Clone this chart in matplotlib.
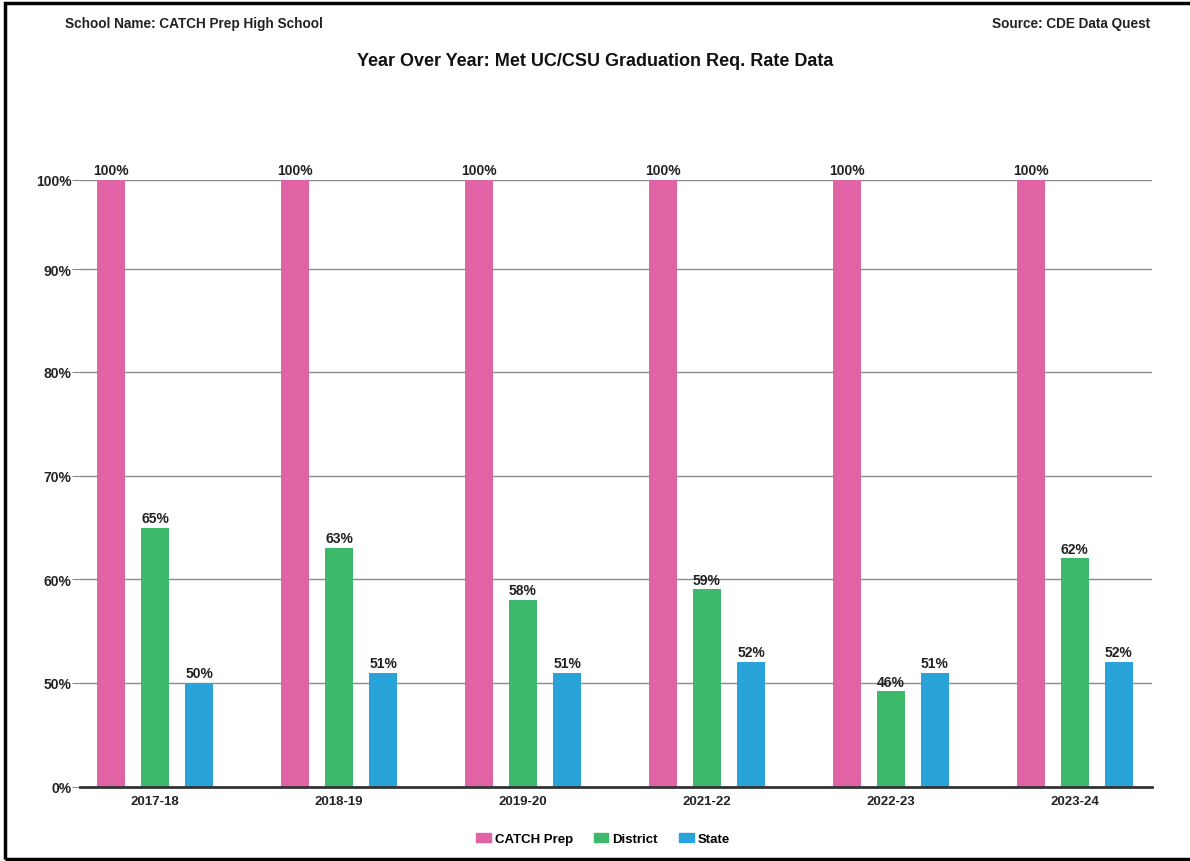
import numpy as np
import matplotlib
matplotlib.use('Agg')
import matplotlib.pyplot as plt
from matplotlib.patches import Rectangle, Patch

plt.rcParams['font.family'] = ['Liberation Sans', 'DejaVu Sans']
plt.rcParams['font.weight'] = 'bold'

# data
years = ['2017-18', '2018-19', '2019-20', '2021-22', '2022-23', '2023-24']
catch_prep = [100, 100, 100, 100, 100, 100]
district = [65, 63, 58, 59, 46, 62]
state = [50, 51, 51, 52, 51, 52]
series_names = ['CATCH Prep', 'District', 'State']
colors = ['#e064a5', '#3cb96b', '#29a3da']
yticks = [0, 50, 60, 70, 80, 90, 100]

# the original axis is broken: 0-50 squeezed, then 10% steps
tick_pos = [0, 104, 208, 311, 415, 518, 607]
fwd = lambda v: np.interp(v, yticks, tick_pos)
inv = lambda p: np.interp(p, tick_pos, yticks)

fig = plt.figure(figsize=(11.9, 8.62), dpi=100)
ax = fig.add_axes([80/1190, 1-788/862, (1152-80)/1190, (788-181)/862])
ax.set_yscale('function', functions=(fwd, inv))
ax.set_ylim(0, 100)

x = np.arange(len(years))
w = 0.152
off = 0.24
for vals, dx, c in zip([catch_prep, district, state], [-off, 0, off], colors):
    bars = ax.bar(x + dx, vals, w, color=c, zorder=3)
    for b, v in zip(bars, vals):
        ax.annotate('%d%%' % v, (b.get_x() + b.get_width()/2, v), xytext=(0, 2),
                    textcoords='offset points', ha='center', va='bottom',
                    fontsize=10, fontweight='bold', color='#222222', annotation_clip=False)

ax.set_xlim(-0.408, 5.42)
ax.set_xticks(x)
ax.set_xticklabels(years)
ax.set_yticks(yticks)
ax.set_yticklabels(['%d%%' % t for t in yticks])
ax.yaxis.grid(True, color='#8a8a8a', linewidth=1, zorder=0)
ax.tick_params(axis='y', length=6, color='#8a8a8a', pad=0, labelsize=10, labelcolor='#222222')
ax.tick_params(axis='x', length=0, pad=6, labelsize=9.5, labelcolor='#222222')
for s in ['top', 'right', 'left']:
    ax.spines[s].set_visible(False)
ax.spines['bottom'].set_color('#333333')
ax.spines['bottom'].set_linewidth(2)
ax.spines['bottom'].set_zorder(4)

fig.text(65/1190, 1-24/862, 'School Name: CATCH Prep High School', fontsize=9.8,
         fontweight='bold', color='#222222', va='center')
fig.text(1150/1190, 1-24/862, 'Source: CDE Data Quest', fontsize=9.8,
         fontweight='bold', color='#222222', va='center', ha='right')
fig.text(595/1190, 1-61/862, 'Year Over Year: Met UC/CSU Graduation Req. Rate Data',
         fontsize=13, fontweight='bold', color='#111111', va='center', ha='center')

handles = [Patch(color=c) for c in colors]
fig.legend(handles, series_names, loc='center', bbox_to_anchor=(603/1190, 1-840/862),
           ncol=3, frameon=False, fontsize=9.5, handlelength=1.1, handleheight=0.6,
           handletextpad=0.3, columnspacing=1.6)

fig.patches.append(Rectangle((5/1190, 2/862), 1.1, 1-6/862, transform=fig.transFigure,
                             fill=False, edgecolor='black', linewidth=2.5))

fig.savefig('out.png', dpi=100)
